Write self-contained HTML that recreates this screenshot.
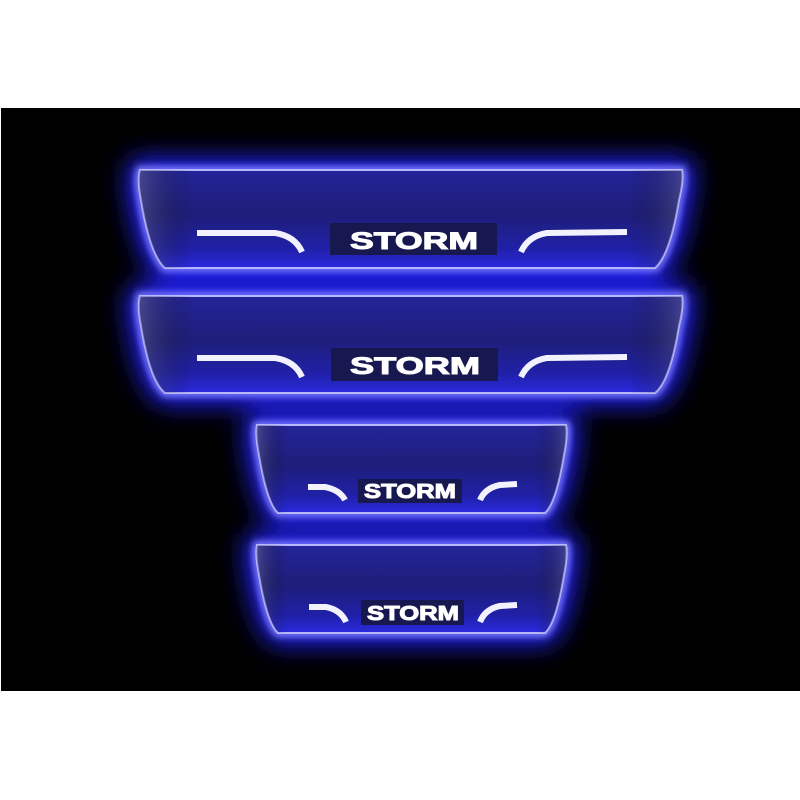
<!DOCTYPE html>
<html><head><style>
html,body{margin:0;padding:0;background:#fff;width:800px;height:800px;overflow:hidden}
svg{display:block}
</style></head><body>
<svg width="800" height="800" viewBox="0 0 800 800" xmlns="http://www.w3.org/2000/svg">
<defs>
<filter id="glow" x="-20%" y="-60%" width="140%" height="220%">
<feGaussianBlur stdDeviation="13"/>
</filter>
<filter id="glow2" x="-20%" y="-60%" width="140%" height="220%">
<feGaussianBlur stdDeviation="3.5"/>
</filter>
<linearGradient id="fill" x1="0" y1="0" x2="0" y2="1">
<stop offset="0" stop-color="#24249a"/>
<stop offset="0.45" stop-color="#1e1e7a"/>
<stop offset="0.8" stop-color="#2020a8"/>
<stop offset="1" stop-color="#2a2ae0"/>
</linearGradient>
<linearGradient id="side" x1="0" y1="0" x2="1" y2="0">
<stop offset="0" stop-color="#6a6a90" stop-opacity="0.5"/>
<stop offset="0.1" stop-color="#000" stop-opacity="0"/>
<stop offset="0.9" stop-color="#000" stop-opacity="0"/>
<stop offset="1" stop-color="#6a6a90" stop-opacity="0.45"/>
</linearGradient>
</defs>
<rect x="1" y="108" width="799" height="583" fill="#000"/>

<g filter="url(#glow)" fill="#1e1eff" stroke="#2020ff" stroke-width="22">
<path d="M140 170 L682 170 Q684 180 679 200 Q670 255 655 268 L165 268 Q150 255 141 200 Q137 180 140 170Z"/>
<path d="M140 296 L682 296 Q684 306 679 326 Q670 381 655 393 L165 393 Q150 381 141 326 Q137 306 140 296Z"/>
<path d="M257 425 L566 425 Q568 435 564 455 Q556 503 545 513 L278 513 Q267 503 259 455 Q255 435 257 425Z"/>
<path d="M257 545 L566 545 Q568 555 564 575 Q556 623 545 633 L278 633 Q267 623 259 575 Q255 555 257 545Z"/>
</g>
<g fill="none" stroke="#7a7aff" stroke-width="8" filter="url(#glow2)">
<path d="M140 170 L682 170 Q684 180 679 200 Q670 255 655 268 L165 268 Q150 255 141 200 Q137 180 140 170Z"/>
<path d="M140 296 L682 296 Q684 306 679 326 Q670 381 655 393 L165 393 Q150 381 141 326 Q137 306 140 296Z"/>
<path d="M257 425 L566 425 Q568 435 564 455 Q556 503 545 513 L278 513 Q267 503 259 455 Q255 435 257 425Z"/>
<path d="M257 545 L566 545 Q568 555 564 575 Q556 623 545 633 L278 633 Q267 623 259 575 Q255 555 257 545Z"/>
</g>
<g stroke="#b8b8ff" stroke-width="2">
<path fill="url(#fill)" d="M140 170 L682 170 Q684 180 679 200 Q670 255 655 268 L165 268 Q150 255 141 200 Q137 180 140 170Z"/>
<path fill="url(#fill)" d="M140 296 L682 296 Q684 306 679 326 Q670 381 655 393 L165 393 Q150 381 141 326 Q137 306 140 296Z"/>
<path fill="url(#fill)" d="M257 425 L566 425 Q568 435 564 455 Q556 503 545 513 L278 513 Q267 503 259 455 Q255 435 257 425Z"/>
<path fill="url(#fill)" d="M257 545 L566 545 Q568 555 564 575 Q556 623 545 633 L278 633 Q267 623 259 575 Q255 555 257 545Z"/>
</g>
<g fill="url(#side)">
<path d="M140 170 L682 170 Q684 180 679 200 Q670 255 655 268 L165 268 Q150 255 141 200 Q137 180 140 170Z"/>
<path d="M140 296 L682 296 Q684 306 679 326 Q670 381 655 393 L165 393 Q150 381 141 326 Q137 306 140 296Z"/>
<path d="M257 425 L566 425 Q568 435 564 455 Q556 503 545 513 L278 513 Q267 503 259 455 Q255 435 257 425Z"/>
<path d="M257 545 L566 545 Q568 555 564 575 Q556 623 545 633 L278 633 Q267 623 259 575 Q255 555 257 545Z"/>
</g>

<g fill="none" stroke="#f2f2ff" stroke-width="6" stroke-linecap="butt">
<path d="M197 233 L275 233 Q295 236 302 252"/>
<path d="M627 232 L547 233 Q528 236 521 252"/>
<path d="M197 358 L275 358 Q295 361 302 377"/>
<path d="M627 357 L547 358 Q528 361 521 377"/>
<path d="M308 487 L325 487 Q340 490 345 500"/>
<path d="M517 484 L500 485 Q485 488 480 500"/>
<path d="M309 607 L326 607 Q341 610 346 622"/>
<path d="M517 605 L500 606 Q485 609 480 622"/>
</g>

<g fill="#181850">
<rect x="330" y="223" width="167" height="32"/>
<rect x="331" y="348" width="167" height="33"/>
<rect x="358" y="479" width="104" height="24"/>
<rect x="361" y="600" width="103" height="25"/>
</g>
<g fill="#ffffff" stroke="#ffffff" stroke-width="1" font-family="'Liberation Sans', sans-serif" font-weight="bold" text-anchor="middle">
<text x="414" y="249" font-size="24" textLength="128" lengthAdjust="spacingAndGlyphs">STORM</text>
<text x="415" y="374" font-size="24" textLength="130" lengthAdjust="spacingAndGlyphs">STORM</text>
<text x="410" y="498" font-size="20" textLength="92" lengthAdjust="spacingAndGlyphs">STORM</text>
<text x="413" y="620" font-size="20" textLength="92" lengthAdjust="spacingAndGlyphs">STORM</text>
</g>
</svg>
</body></html>
